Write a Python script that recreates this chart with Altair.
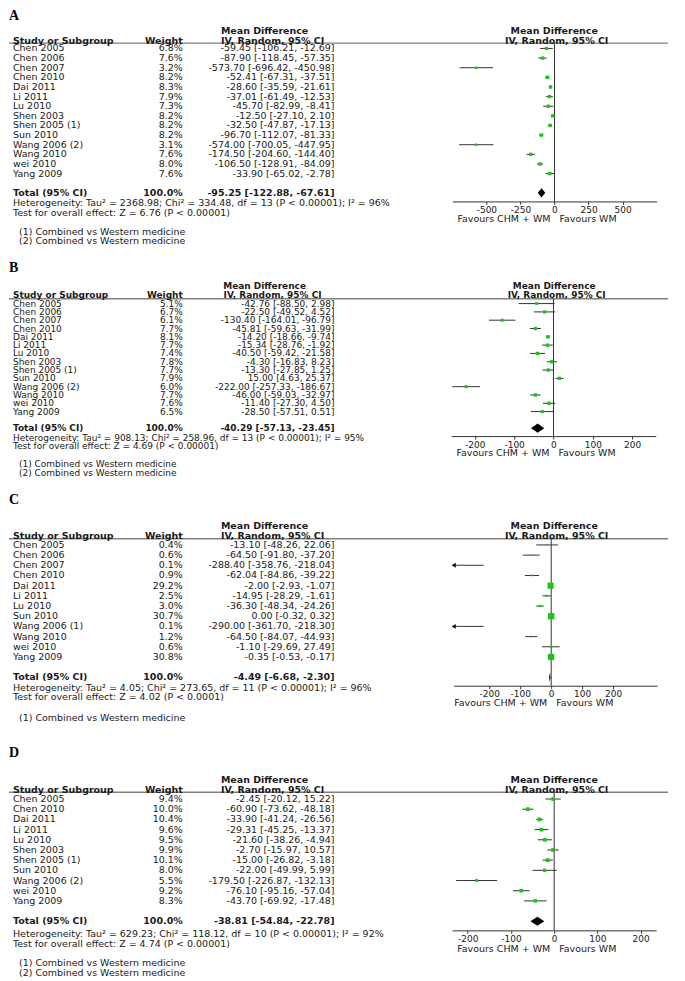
import altair as alt
import pandas as pd

FONT = "DejaVu Sans"
SERIF = "Liberation Serif"
GREEN = "#1ec21e"
INK = "#1a1a1a"

# ---------------- Panel A ----------------
a_study = ["Chen 2005", "Chen 2006", "Chen 2007", "Chen 2010", "Dai 2011", "Li 2011", "Lu 2010",
           "Shen 2003", "Shen 2005 (1)", "Sun 2010", "Wang 2006 (2)", "Wang 2010", "wei 2010", "Yang 2009"]
a_weight = [6.8, 7.6, 3.2, 8.2, 8.3, 7.9, 7.3, 8.2, 8.2, 8.2, 3.1, 7.6, 8.0, 7.6]
a_md = [-59.45, -87.90, -573.70, -52.41, -28.60, -37.01, -45.70, -12.50, -32.50, -96.70, -574.00, -174.50, -106.50, -33.90]
a_lo = [-106.21, -118.45, -696.42, -67.31, -35.59, -61.49, -82.99, -27.10, -47.87, -112.07, -700.05, -204.60, -128.91, -65.02]
a_hi = [-12.69, -57.35, -450.98, -37.51, -21.61, -12.53, -8.41, 2.10, -17.13, -81.33, -447.95, -144.40, -84.09, -2.78]
a_total = [-95.25, -122.88, -67.61]
a_het = "Heterogeneity: Tau² = 2368.98; Chi² = 334.48, df = 13 (P < 0.00001); I² = 96%"
a_test = "Test for overall effect: Z = 6.76 (P < 0.00001)"
a_notes = ["(1) Combined vs Western medicine", "(2) Combined vs Western medicine"]
a_ticks = [-500, -250, 0, 250, 500]
a_domain = [-750, 750]

# ---------------- Panel B ----------------
b_study = ["Chen 2005", "Chen 2006", "Chen 2007", "Chen 2010", "Dai 2011", "Li 2011", "Lu 2010",
           "Shen 2003", "Shen 2005 (1)", "Sun 2010", "Wang 2006 (2)", "Wang 2010", "wei 2010", "Yang 2009"]
b_weight = [5.1, 6.7, 6.1, 7.7, 8.1, 7.7, 7.4, 7.8, 7.7, 7.9, 6.0, 7.7, 7.6, 6.5]
b_md = [-42.76, -22.50, -130.40, -45.81, -14.20, -15.34, -40.50, -4.30, -13.30, 15.00, -222.00, -46.00, -11.40, -28.50]
b_lo = [-88.50, -49.52, -164.01, -59.63, -18.66, -28.76, -59.42, -16.83, -27.85, 4.63, -257.33, -59.03, -27.30, -57.51]
b_hi = [2.98, 4.52, -96.79, -31.99, -9.74, -1.92, -21.58, 8.23, 1.25, 25.37, -186.67, -32.97, 4.50, 0.51]
b_total = [-40.29, -57.13, -23.45]
b_het = "Heterogeneity: Tau² = 908.13; Chi² = 258.96, df = 13 (P < 0.00001); I² = 95%"
b_test = "Test for overall effect: Z = 4.69 (P < 0.00001)"
b_notes = ["(1) Combined vs Western medicine", "(2) Combined vs Western medicine"]
b_ticks = [-200, -100, 0, 100, 200]
b_domain = [-260, 260]

# ---------------- Panel C ----------------
c_study = ["Chen 2005", "Chen 2006", "Chen 2007", "Chen 2010", "Dai 2011", "Li 2011", "Lu 2010",
           "Sun 2010", "Wang 2006 (1)", "Wang 2010", "wei 2010", "Yang 2009"]
c_weight = [0.4, 0.6, 0.1, 0.9, 29.2, 2.5, 3.0, 30.7, 0.1, 1.2, 0.6, 30.8]
c_md = [-13.10, -64.50, -288.40, -62.04, -2.00, -14.95, -36.30, 0.00, -290.00, -64.50, -1.10, -0.35]
c_lo = [-48.26, -91.80, -358.76, -84.86, -2.93, -28.29, -48.34, -0.32, -361.70, -84.07, -29.69, -0.53]
c_hi = [22.06, -37.20, -218.04, -39.22, -1.07, -1.61, -24.26, 0.32, -218.30, -44.93, 27.49, -0.17]
c_total = [-4.49, -6.68, -2.30]
c_het = "Heterogeneity: Tau² = 4.05; Chi² = 273.65, df = 11 (P < 0.00001); I² = 96%"
c_test = "Test for overall effect: Z = 4.02 (P < 0.0001)"
c_notes = ["(1) Combined vs Western medicine"]
c_ticks = [-200, -100, 0, 100, 200]
c_domain = [-315, 342]

# ---------------- Panel D ----------------
d_study = ["Chen 2005", "Chen 2010", "Dai 2011", "Li 2011", "Lu 2010", "Shen 2003", "Shen 2005 (1)",
           "Sun 2010", "Wang 2006 (2)", "wei 2010", "Yang 2009"]
d_weight = [9.4, 10.0, 10.4, 9.6, 9.5, 9.9, 10.1, 8.0, 5.5, 9.2, 8.3]
d_md = [-2.45, -60.90, -33.90, -29.31, -21.60, -2.70, -15.00, -22.00, -179.50, -76.10, -43.70]
d_lo = [-20.12, -73.62, -41.24, -45.25, -38.26, -15.97, -26.82, -49.99, -226.87, -95.16, -69.92]
d_hi = [15.22, -48.18, -26.56, -13.37, -4.94, 10.57, -3.18, 5.99, -132.13, -57.04, -17.48]
d_total = [-38.81, -54.84, -22.78]
d_het = "Heterogeneity: Tau² = 629.23; Chi² = 118.12, df = 10 (P < 0.00001); I² = 92%"
d_test = "Test for overall effect: Z = 4.74 (P < 0.00001)"
d_notes = ["(1) Combined vs Western medicine", "(2) Combined vs Western medicine"]
d_ticks = [-200, -100, 0, 100, 200]
d_domain = [-236, 236]

# Layout (page pixel positions of each panel's elements)
LAYOUT = {
    "A": dict(top=8, height=242, letter=15, md=30.7, sos=40, line=42.5, row0=47.8, step=9.64, fs=9.5,
              axis=201, het=202.7, test=212.3, notes=[231.3, 240.7], fav=218.5, zero=554.3, ppu=0.1364),
    "B": dict(top=250, height=240, letter=267.7, md=286, sos=295, line=298.5, row0=303.3, step=8.32, fs=9,
              axis=436, het=437.5, test=446, notes=[464, 472.7], fav=453, zero=553.3, ppu=0.394),
    "C": dict(top=490, height=250, letter=500, md=526, sos=536, line=538.8, row0=545, step=10.2, fs=9.5,
              axis=686, het=688, test=697.7, notes=[718], fav=703, zero=551, ppu=0.31),
    "D": dict(top=740, height=241, letter=753.3, md=780, sos=790.7, line=792.7, row0=799.5, step=10.2, fs=9.5,
              axis=931, het=935, test=944.3, notes=[964, 973.3], fav=950, zero=554, ppu=0.433),
}

W = 669
SHIFT = 8  # page margin


def txt(text, x, y, align="left", bold=False, size=9.5, font=FONT, color=INK):
    return alt.Chart(pd.DataFrame({"t": [text]})).mark_text(
        align=align, baseline="middle", font=font, fontSize=size,
        fontWeight="bold" if bold else "normal", color=color
    ).encode(x=alt.value(x - SHIFT), y=alt.value(y), text="t:N")


def panel(letter, study, weight, md, lo, hi, total, het, test, notes, ticks, domain, L):
    top = L["top"]
    H = L["height"]
    fs = L["fs"]
    n = len(study)

    def loc(y):
        return y - top

    rows = pd.DataFrame({"study": study, "weight": weight, "md": md, "lo": lo, "hi": hi})
    rows["row"] = list(range(n))
    rows["wtxt"] = [f"{w:.1f}%" for w in weight]
    rows["citxt"] = [f"{m:.2f} [{a:.2f}, {b:.2f}]" for m, a, b in zip(md, lo, hi)]
    rows["lo_c"] = rows["lo"].clip(lower=domain[0])
    rows["hi_c"] = rows["hi"].clip(upper=domain[1])

    total_row = n + 1
    tot = pd.DataFrame({"row": [total_row], "study": ["Total (95% CI)"], "wtxt": ["100.0%"],
                        "citxt": [f"{total[0]:.2f} [{total[1]:.2f}, {total[2]:.2f}]"]})
    half = 4.6 / L["step"]
    diam = pd.DataFrame({"x": [total[1], total[0], total[2]],
                         "ya": [total_row, total_row - half, total_row],
                         "yb": [total_row, total_row + half, total_row]})

    y0 = loc(L["row0"])
    yscale = alt.Scale(domain=[0, total_row], range=[y0, y0 + total_row * L["step"]], nice=False, zero=False)
    xr = [L["zero"] - SHIFT + domain[0] * L["ppu"], L["zero"] - SHIFT + domain[1] * L["ppu"]]
    xscale = alt.Scale(domain=domain, range=xr, nice=False, zero=False)
    xaxis = alt.Axis(values=ticks, orient="bottom", offset=loc(L["axis"]) - H, title=None, grid=False,
                     domainColor="#333333", tickColor="#333333", tickSize=3, tickWidth=1, domainWidth=1,
                     labelPadding=1, labelFont=FONT, labelFontSize=9, labelColor=INK,
                     labelExpr="toString(datum.value)", labelFlush=False, labelOverlap=False)

    def X(field):
        return alt.X(f"{field}:Q", scale=xscale, axis=xaxis)

    Y = alt.Y("row:Q", scale=yscale, axis=None)

    layers = []
    # header rule
    layers.append(alt.Chart(pd.DataFrame({"k": [0]})).mark_rule(color="#808080", strokeWidth=1.4).encode(
        x=alt.value(0), x2=alt.value(668 - SHIFT), y=alt.value(loc(L["line"]))))
    # zero line
    layers.append(alt.Chart(pd.DataFrame({"zero": [0]})).mark_rule(color="#333333", strokeWidth=1).encode(
        x=X("zero"), y=alt.value(loc(L["line"])), y2=alt.value(loc(L["axis"]))))
    # CI lines
    layers.append(alt.Chart(rows).mark_rule(color="#333333", strokeWidth=1).encode(
        x=X("lo_c"), x2="hi_c:Q", y=Y))
    # arrows for CIs beyond the axis
    beyond = rows[rows["lo"] < domain[0]]
    if len(beyond):
        layers.append(alt.Chart(beyond).mark_point(shape="triangle-left", filled=True, color="#111111",
                                                   size=24, opacity=1).encode(x=X("lo_c"), y=Y))
    # study squares
    layers.append(alt.Chart(rows).mark_square(color=GREEN, opacity=1).encode(
        x=X("md"), y=Y,
        size=alt.Size("weight:Q", scale=alt.Scale(domain=[0, 31], range=[2, 40]), legend=None)))
    # pooled diamond
    layers.append(alt.Chart(diam).mark_area(color="black", orient="vertical").encode(
        x=X("x"), y=alt.Y("ya:Q", scale=yscale, axis=None), y2="yb:Q"))

    # table text
    base_t = dict(baseline="middle", font=FONT, fontSize=fs, color=INK)
    layers.append(alt.Chart(rows).mark_text(align="left", **base_t).encode(
        x=alt.value(12 - SHIFT), y=Y, text="study:N"))
    layers.append(alt.Chart(rows).mark_text(align="right", **base_t).encode(
        x=alt.value(182 - SHIFT), y=Y, text="wtxt:N"))
    layers.append(alt.Chart(rows).mark_text(align="right", **base_t).encode(
        x=alt.value(334 - SHIFT), y=Y, text="citxt:N"))
    layers.append(alt.Chart(tot).mark_text(align="left", fontWeight="bold", **base_t).encode(
        x=alt.value(12 - SHIFT), y=Y, text="study:N"))
    layers.append(alt.Chart(tot).mark_text(align="right", fontWeight="bold", **base_t).encode(
        x=alt.value(182 - SHIFT), y=Y, text="wtxt:N"))
    layers.append(alt.Chart(tot).mark_text(align="right", fontWeight="bold", **base_t).encode(
        x=alt.value(334 - SHIFT), y=Y, text="citxt:N"))

    # headers and notes
    layers.append(txt(letter, SHIFT, loc(L["letter"]), bold=True, size=14, font=SERIF, color="black"))
    layers.append(txt("Mean Difference", 264, loc(L["md"]), align="center", bold=True, size=fs))
    layers.append(txt("IV, Random, 95% CI", 272, loc(L["sos"]), align="center", bold=True, size=fs))
    layers.append(txt("Study or Subgroup", 12, loc(L["sos"]), bold=True, size=fs))
    layers.append(txt("Weight", 182, loc(L["sos"]), align="right", bold=True, size=fs))
    layers.append(txt("Mean Difference", 554, loc(L["md"]), align="center", bold=True, size=fs))
    layers.append(txt("IV, Random, 95% CI", 556.5, loc(L["sos"]), align="center", bold=True, size=fs))
    layers.append(txt(het, 12, loc(L["het"]), size=fs))
    layers.append(txt(test, 12, loc(L["test"]), size=fs))
    for i, note in enumerate(notes):
        layers.append(txt(note, 18, loc(L["notes"][i]), size=fs))
    layers.append(txt("Favours CHM + WM", L["zero"] - 4, loc(L["fav"]), align="right", size=9.5))
    layers.append(txt("Favours WM", L["zero"] + 5, loc(L["fav"]), align="left", size=9.5))

    return alt.layer(*layers).properties(width=W, height=H)


pA = panel("A", a_study, a_weight, a_md, a_lo, a_hi, a_total, a_het, a_test, a_notes, a_ticks, a_domain, LAYOUT["A"])
pB = panel("B", b_study, b_weight, b_md, b_lo, b_hi, b_total, b_het, b_test, b_notes, b_ticks, b_domain, LAYOUT["B"])
pC = panel("C", c_study, c_weight, c_md, c_lo, c_hi, c_total, c_het, c_test, c_notes, c_ticks, c_domain, LAYOUT["C"])
pD = panel("D", d_study, d_weight, d_md, d_lo, d_hi, d_total, d_het, d_test, d_notes, d_ticks, d_domain, LAYOUT["D"])

chart = alt.vconcat(pA, pB, pC, pD, spacing=0, bounds="flush").properties(
    padding=0
).configure_view(stroke=None)

chart.save("out.html", embed_options={"renderer": "svg", "actions": False})
